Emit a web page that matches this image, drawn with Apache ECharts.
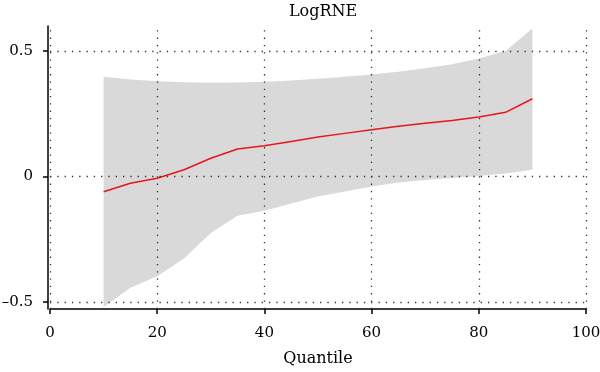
<!DOCTYPE html>
<html><head><meta charset="utf-8">
<script src="https://cdn.jsdelivr.net/npm/echarts@6/dist/echarts.min.js"></script>
<style>html,body{margin:0;padding:0;background:#fff}#c{width:600px;height:372px}</style>
</head><body><div id="c"></div>
<script>
const quantiles = [10,15,20,25,30,35,40,45,50,55,60,65,70,75,80,85,90];
const estimate = [-0.061,-0.027,-0.007,0.027,0.073,0.110,0.123,0.140,0.158,0.172,0.186,0.200,0.212,0.223,0.237,0.256,0.310];
const upper = [0.398,0.387,0.380,0.376,0.374,0.375,0.378,0.383,0.390,0.398,0.407,0.418,0.432,0.448,0.470,0.500,0.590];
const lower = [-0.520,-0.443,-0.397,-0.327,-0.225,-0.156,-0.136,-0.107,-0.080,-0.060,-0.040,-0.024,-0.014,-0.006,0.002,0.012,0.027];
const yTicks = [-0.5,0,0.5];
const xGrid = [0,20,40,60,80,100];

const font = 'DejaVu Serif';
const chart = echarts.init(document.getElementById('c'));
const dotted = {color:'#333', width:1.3, type:[1.3,6]};
chart.setOption({
  animation:false,
  title:{text:'LogRNE', left:318, textAlign:'center', top:-1, textStyle:{fontFamily:font, fontSize:16, fontWeight:'normal', color:'#000'}},
  grid:{left:50, right:14, top:26, bottom:63, outerBoundsMode:'none', containLabel:false},
  xAxis:{type:'value', min:0, max:100, interval:20, name:'Quantile', nameLocation:'middle', nameGap:42,
    nameTextStyle:{fontFamily:font, fontSize:16, color:'#000'},
    axisLine:{show:true, onZero:false, lineStyle:{color:'#000', width:1.5}},
    axisTick:{show:true, length:5, lineStyle:{color:'#000', width:1.5}},
    axisLabel:{fontFamily:font, fontSize:15, color:'#000', margin:17},
    splitLine:{show:false}},
  yAxis:{type:'value', min:-0.528, max:0.6, offset:2,
    axisLine:{show:true, onZero:false, lineStyle:{color:'#000', width:1.5}},
    axisTick:{show:true, length:5, customValues:yTicks, lineStyle:{color:'#000', width:1.5}},
    axisLabel:{fontFamily:font, fontSize:15, color:'#000', margin:15, customValues:yTicks,
      formatter:v=> v<0 ? '\u2013'+Math.abs(v) : String(v)},
    splitLine:{show:false}},
  series:[
    {type:'line', data:[], z:0, silent:true,
     markLine:{silent:true, symbol:'none', label:{show:false}, lineStyle:dotted,
       data:[...yTicks.map(v=>({yAxis:v})), ...xGrid.map(v=>({xAxis:v}))]}},
    {type:'custom', data:[0], silent:true, clip:false, z:1,
     renderItem:(params, api)=>{
       const pts = quantiles.map((q,i)=>api.coord([q,upper[i]]))
         .concat(quantiles.map((q,i)=>api.coord([q,lower[i]])).reverse());
       return {type:'polygon', shape:{points:pts}, style:{fill:'#d9d9d9'}};
     }},
    {type:'line', data:quantiles.map((q,i)=>[q,estimate[i]]), symbol:'none', z:3, lineStyle:{color:'#e8161a', width:1.5}, silent:true}
  ]
});
</script></body></html>
